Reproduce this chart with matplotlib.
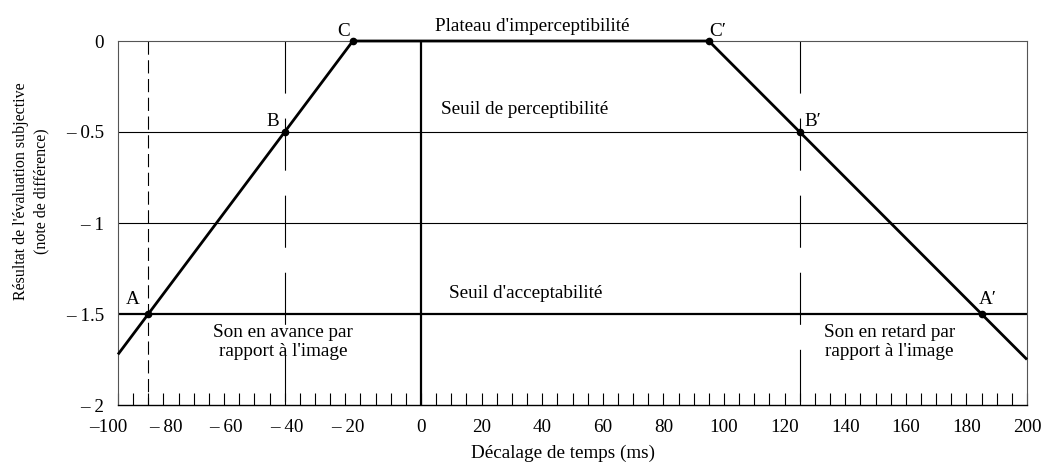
import matplotlib
matplotlib.use("Agg")
import matplotlib.pyplot as plt
from matplotlib.ticker import MultipleLocator, FixedLocator, FixedFormatter
import matplotlib.transforms as mtransforms

plt.rcParams['font.family'] = ['Liberation Serif', 'DejaVu Serif']
plt.rcParams['lines.scale_dashes'] = False

# ---- data ----
curve_x = [-100, -90, -45, -22.5, 95, 125, 185, 200]
curve_y = [-1.722, -1.5, -0.5, 0.0, 0.0, -0.5, -1.5, -1.75]

point_names = ["A", "B", "C", "C\u2032", "B\u2032", "A\u2032"]
point_x = [-90, -45, -22.5, 95, 125, 185]
point_y = [-1.5, -0.5, 0.0, 0.0, -0.5, -1.5]
label_x = [-95, -48.8, -25.7, 98, 129.4, 187]
label_y = [-1.418, -0.445, 0.05, 0.05, -0.445, -1.418]

x_ticks = [-100, -80, -60, -40, -20, 0, 20, 40, 60, 80, 100, 120, 140, 160, 180, 200]
x_tick_labels = ["\u2013100", "\u2013 80", "\u2013 60", "\u2013 40", "\u2013 20", "0", "20", "40",
                 "60", "80", "100", "120", "140", "160", "180", "200"]
y_ticks = [0, -0.5, -1, -1.5, -2]
y_tick_labels = ["0", "\u2013 0.5", "\u2013 1", "\u2013 1.5", "\u2013 2"]

threshold_y = [-0.5, -1.0, -1.5]
threshold_lw = [0.8, 0.8, 1.6]
detect_x = [-45, 125]
accept_x = [-90]

FS = 13.8

fig = plt.figure(figsize=(10.42, 4.65), dpi=100)
ax = fig.add_axes([118/1042, 1-405/465, (1027-118)/1042, (405-41)/465])
ax.set_xlim(-100, 200)
ax.set_ylim(-2, 0)

# horizontal reference lines
for yv, lw in zip(threshold_y, threshold_lw):
    ax.axhline(yv, color='black', lw=lw, zorder=1)
# vertical lines (drawn top to bottom so dashes start at the top)
ax.axvline(0, color='black', lw=1.6, zorder=1)
for xv in detect_x:
    ax.plot([xv, xv], [0, -2], color='black', lw=0.8, dashes=(37.5, 18), zorder=1)
for xv in accept_x:
    ax.plot([xv, xv], [0, -2], color='black', lw=0.8, dashes=(9.5, 4), zorder=1)

# curve
ax.plot(curve_x, curve_y, color='black', lw=2.0, zorder=3, clip_on=False,
        solid_capstyle='butt')
ax.plot(point_x, point_y, 'o', color='black', ms=4.5, zorder=4, clip_on=False)
for n, lx, ly in zip(point_names, label_x, label_y):
    ax.text(lx, ly, n, ha='center', va='center', fontsize=FS, clip_on=False)

# annotations
ax.text(36.6, 0.08, "Plateau d'imperceptibilit\u00e9", ha='center', va='center', fontsize=FS, clip_on=False)
ax.text(34.3, -0.379, "Seuil de perceptibilit\u00e9", ha='center', va='center', fontsize=FS)
ax.text(34.6, -1.385, "Seuil d'acceptabilit\u00e9", ha='center', va='center', fontsize=FS)
ax.text(-45.5, -1.654, "Son en avance par\nrapport \u00e0 l'image", ha='center', va='center',
        fontsize=FS, linespacing=1.2)
ax.text(154.5, -1.654, "Son en retard par\nrapport \u00e0 l'image", ha='center', va='center',
        fontsize=FS, linespacing=1.2)

# axes styling
for s in ['top', 'right', 'left']:
    ax.spines[s].set_color('#555555')
    ax.spines[s].set_linewidth(0.8)
ax.spines['bottom'].set_color('black')
ax.spines['bottom'].set_linewidth(1.0)

ax.xaxis.set_major_locator(FixedLocator(x_ticks))
ax.xaxis.set_major_formatter(FixedFormatter(x_tick_labels))
ax.xaxis.set_minor_locator(MultipleLocator(5))
ax.tick_params(axis='x', which='both', direction='in', length=8.6, width=0.8,
               labelsize=FS, pad=10, top=False)
ax.yaxis.set_major_locator(FixedLocator(y_ticks))
ax.yaxis.set_major_formatter(FixedFormatter(y_tick_labels))
ax.tick_params(axis='y', which='both', length=0, labelsize=FS, pad=10)

# shift negative x tick labels so digits sit over ticks
for lab, txt in zip(ax.get_xticklabels(), x_tick_labels):
    if txt.startswith("\u2013"):
        dx = -10 if txt == "\u2013100" else -13
        lab.set_transform(lab.get_transform() + mtransforms.ScaledTranslation(dx/100, 0, fig.dpi_scale_trans))

ax.set_xlabel("D\u00e9calage de temps (ms)", fontsize=FS)
ax.xaxis.set_label_coords((563-118)/909, -(445-405)/364)
ax.set_ylabel("R\u00e9sultat de l'\u00e9valuation subjective\n(note de diff\u00e9rence)",
              fontsize=11.5, va='center', linespacing=1.39)
ax.yaxis.set_label_coords((31-118)/909, (405-191)/364)

fig.savefig("out.png", dpi=100)
